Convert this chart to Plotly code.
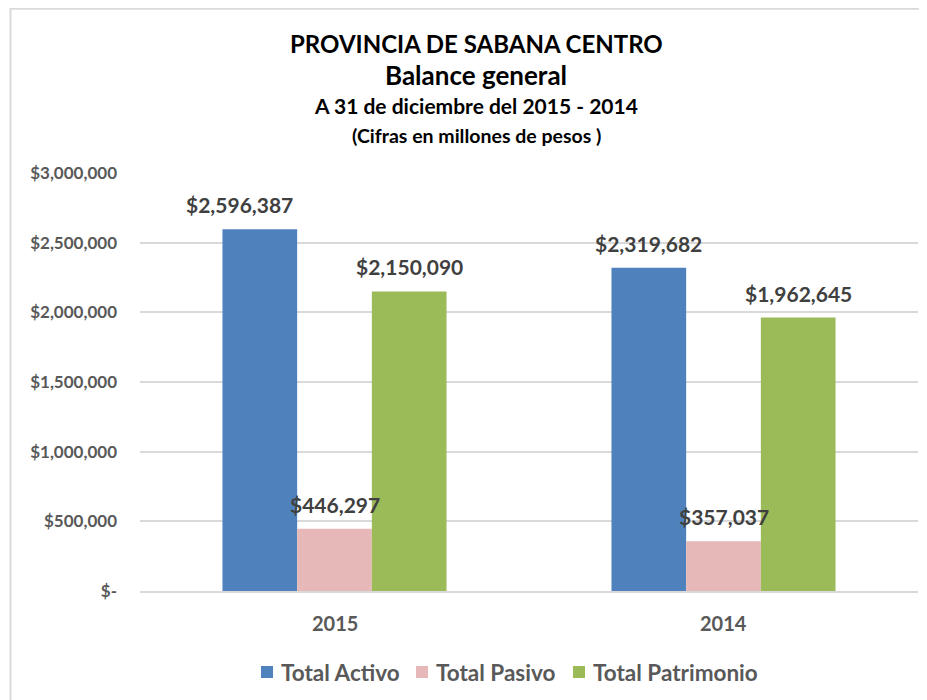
import plotly.graph_objects as go

categories = ["2015", "2014"]
series_names = ["Total Activo", "Total Pasivo", "Total Patrimonio"]
total_activo = [2596387, 2319682]
total_pasivo = [446297, 357037]
total_patrimonio = [2150090, 1962645]
colors = ["#4F81BD", "#E6B9B8", "#9BBB59"]
tick_vals = [0, 500000, 1000000, 1500000, 2000000, 2500000, 3000000]
tick_text = ["$-", "$500,000", "$1,000,000", "$1,500,000", "$2,000,000", "$2,500,000", "$3,000,000"]
title_lines = ["PROVINCIA DE SABANA CENTRO", "Balance general",
               "A 31 de diciembre del 2015 - 2014", "(Cifras en millones de pesos )"]

FONT = "Lato"
W, H = 919, 692
L, R, T, B = 132, 9, 165, 109
pw, ph = W - L - R, H - T - B
bargap = 0.424
bar_px = pw / len(categories) * (1 - bargap) / 3
# label nudges (series index, category index) -> extra px, as in the reference
label_nudge = {(0, 0): -20}

fig = go.Figure()
all_series = [total_activo, total_pasivo, total_patrimonio]
for name, vals, col in zip(series_names, all_series, colors):
    fig.add_trace(go.Bar(x=categories, y=vals, name=name, marker_color=col,
                         marker_line_width=0, showlegend=False))

# data labels (x given as category index)
for i, vals in enumerate(all_series):
    for ci, v in enumerate(vals):
        fig.add_annotation(x=ci, y=v, xref="x", yref="y", text="<b>${:,}</b>".format(v),
                           showarrow=False, xanchor="center", yanchor="bottom",
                           xshift=(i - 1) * bar_px + label_nudge.get((i, ci), 0), yshift=10,
                           font=dict(family=FONT, size=21, color="#404040"))

# category labels
for ci, c in enumerate(categories):
    fig.add_annotation(x=ci, y=0, xref="x", yref="y", text="<b>" + c + "</b>",
                       showarrow=False, xanchor="center", yanchor="top", yshift=-18,
                       font=dict(family=FONT, size=20, color="#595959"))

def py(fy):
    return (T + ph - fy) / ph
def px(fx):
    return (fx - L) / pw

# title lines
for txt, fy, sz in zip(title_lines, [35, 67, 97, 127], [24, 26, 21, 19.5]):
    fig.add_annotation(x=px(468), y=py(fy), xref="paper", yref="paper", text="<b>" + txt + "</b>",
                       showarrow=False, xanchor="center", yanchor="middle",
                       font=dict(family=FONT, size=sz, color="black"))

# legend (manual)
for name, col, sx in zip(series_names, colors, [253, 408, 565]):
    fig.add_shape(type="rect", xref="paper", yref="paper", x0=px(sx), x1=px(sx + 12),
                  y0=py(658), y1=py(670), fillcolor=col, line=dict(width=0))
    fig.add_annotation(x=px(sx + 18), y=py(664), xref="paper", yref="paper",
                       text="<b>" + name + "</b>", showarrow=False, xanchor="left", yanchor="middle",
                       font=dict(family=FONT, size=22.5, color="#595959"))

fig.update_layout(
    width=W, height=H,
    paper_bgcolor="white", plot_bgcolor="white",
    barmode="group", bargap=bargap, bargroupgap=0,
    margin=dict(l=L, r=R, t=T, b=B),
    font=dict(family=FONT, color="#595959"),
    showlegend=False,
)
fig.update_yaxes(range=[0, 3000000], tickvals=tick_vals, ticktext=tick_text,
                 showgrid=True, gridcolor="#D9D9D9", gridwidth=1.5, zeroline=False,
                 ticks="", ticklabelstandoff=22,
                 tickfont=dict(family=FONT, size=17, color="#595959", weight="bold"))
fig.update_xaxes(type="category", categoryorder="array", categoryarray=categories,
                 range=[-0.5, len(categories) - 0.5], showticklabels=False,
                 showline=True, linecolor="#D9D9D9", linewidth=1.5)
fig.add_shape(type="rect", xref="paper", yref="paper", x0=px(2.5), x1=px(W + 20),
              y0=py(H + 20), y1=py(0.8),
              line=dict(color="#D9D9D9", width=2), layer="below")
fig.write_html("out.html")
